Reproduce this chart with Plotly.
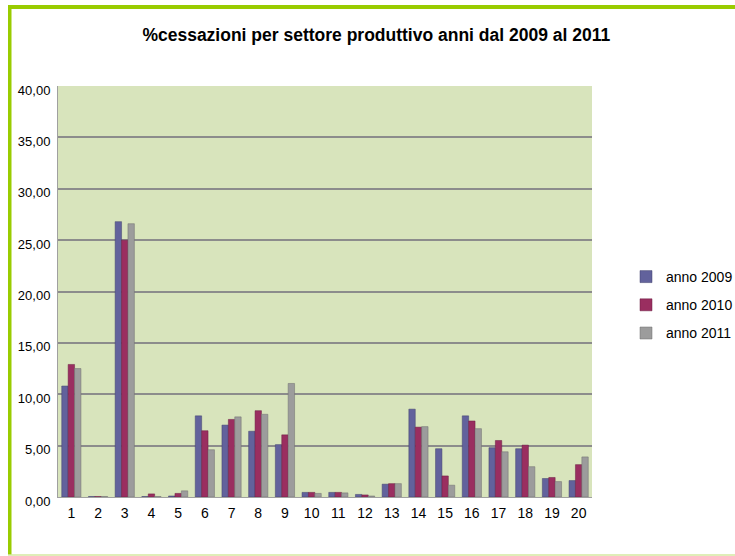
import plotly.graph_objects as go

categories = [str(i) for i in range(1, 21)]
anno_2009 = [10.8, 0.05, 26.8, 0.05, 0.1, 7.9, 7.0, 6.4, 5.1, 0.45, 0.45, 0.25, 1.25, 8.55, 4.7, 7.9, 4.8, 4.7, 1.8, 1.6]
anno_2010 = [12.9, 0.05, 25.0, 0.3, 0.35, 6.45, 7.55, 8.4, 6.05, 0.45, 0.45, 0.2, 1.3, 6.8, 2.05, 7.4, 5.5, 5.05, 1.9, 3.15]
anno_2011 = [12.5, 0.05, 26.6, 0.05, 0.6, 4.6, 7.8, 8.05, 11.05, 0.35, 0.4, 0.1, 1.3, 6.85, 1.15, 6.65, 4.4, 2.95, 1.5, 3.9]
series_names = ["anno 2009", "anno 2010", "anno 2011"]
y_ticks = [0, 5, 10, 15, 20, 25, 30, 35, 40]

W, H = 735, 556
FONT = "Liberation Sans Narrow, Arial Narrow, Liberation Sans, Arial, sans-serif"
colors = ["#62629c", "#9a2e60", "#9c9c9c"]
lines = ["#43436e", "#6b1f43", "#6e6e6e"]

fig = go.Figure()
for name, vals, c, lc, g in zip(series_names, [anno_2009, anno_2010, anno_2011], colors, lines, ["a", "b", "c"]):
    fig.add_trace(go.Bar(x=categories, y=vals, name=name, legendgroup=g,
                         marker=dict(color=c, line=dict(color=lc, width=0.5))))

px = lambda x: x / W
py = lambda y: 1 - y / H

fig.update_layout(
    width=W, height=H,
    margin=dict(l=0, r=0, t=0, b=0, autoexpand=False),
    paper_bgcolor="white",
    plot_bgcolor="#d8e4bc",
    separators=",.",
    barmode="group",
    bargap=0.28,
    bargroupgap=0.0,
    font=dict(family=FONT, size=13, color="#000000"),
    title=dict(text="<b>%cessazioni per settore produttivo anni dal 2009 al 2011</b>",
               x=0.512, xanchor="center", y=py(35), yanchor="middle",
               font=dict(family=FONT, size=17.5, color="#000000")),
    xaxis=dict(domain=[px(58), px(592)], showgrid=False, showline=True, linecolor="#a0a0a0",
               linewidth=1, ticks="", tickfont=dict(size=14), ticklabelstandoff=3, fixedrange=True),
    yaxis=dict(domain=[py(497), py(86)], range=[0, 40], tickvals=y_ticks, tickformat=".2f",
               showgrid=True, gridcolor="#8c8c8c", gridwidth=1.5, showline=True, linecolor="#a0a0a0",
               linewidth=1, ticks="", tickfont=dict(size=13), ticklabelstandoff=4, ticklabelshift=4,
               zeroline=False, fixedrange=True),
    legend=dict(x=px(626), xanchor="left", y=py(261), yanchor="top", tracegroupgap=7,
                font=dict(family=FONT, size=14), bgcolor="rgba(0,0,0,0)", itemwidth=30),
    showlegend=True,
    shapes=[
        dict(type="rect", xref="paper", yref="paper", x0=px(8), x1=1, y0=py(9), y1=py(5),
             fillcolor="#99cc00", line=dict(width=0), layer="above"),
        dict(type="rect", xref="paper", yref="paper", x0=px(8), x1=px(11.5), y0=py(555), y1=py(5),
             fillcolor="#99cc00", line=dict(width=0), layer="above"),
        dict(type="line", xref="paper", yref="paper", x0=px(8), x1=1, y0=py(555), y1=py(555),
             line=dict(color="#d4e8a0", width=1.5), layer="above"),
    ],
)

fig.write_html("out.html")
